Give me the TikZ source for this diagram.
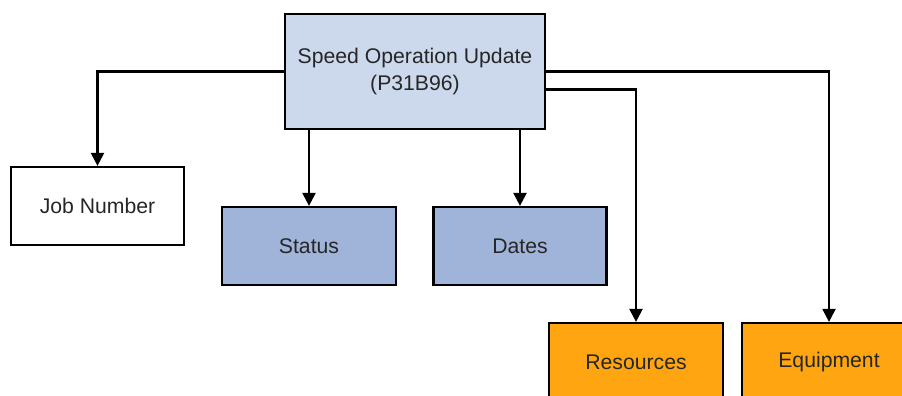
\documentclass[tikz,border=0pt]{standalone}
\usepackage{fontspec}
\setmainfont{Liberation Sans}
\usetikzlibrary{arrows.meta}
\definecolor{mainblue}{HTML}{CCD9EC}
\definecolor{midblue}{HTML}{A0B4DA}
\definecolor{orangef}{HTML}{FFA511}
\definecolor{txt}{HTML}{262626}
\begin{document}
\begin{tikzpicture}[x=1pt,y=-1pt,
  box/.style={draw=black,line width=2.2pt,rectangle,inner sep=0pt,
    minimum width=#1,minimum height=78pt,align=center,text=txt,
    font=\fontsize{21.2}{27}\selectfont},
  box/.default=174pt,
  arr/.style={line width=2.2pt,-{Triangle[length=13pt,width=13pt]}}]
\useasboundingbox (0,0) rectangle (902,396);
\node[box=260pt,minimum height=115pt,fill=mainblue] (main) at (415,71.5) {Speed Operation Update\\(P31B96)};
\node[box=173pt,fill=white] (job) at (97.5,206) {Job Number};
\node[box,fill=midblue] (status) at (309,246) {Status};
\node[box=173pt,fill=midblue] (dates) at (520,246) {Dates};
\node[box,fill=orangef] (res) at (636,362) {Resources};
\node[box,fill=orangef] (equip) at (829,362) {Equipment};
\draw[arr] (main.west) -| (job.north);
\draw[arr] (main.south -| status.north) -- (status.north);
\draw[arr] (main.south -| dates.north) -- (dates.north);
\draw[arr] ([yshift=-18pt]main.east) -| (res.north);
\draw[arr] (main.east) -| (equip.north);
\end{tikzpicture}
\end{document}
